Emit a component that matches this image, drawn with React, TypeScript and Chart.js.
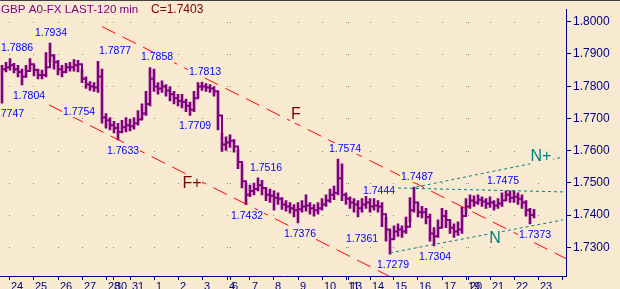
import React, { useEffect, useRef } from "react";
import { Chart, registerables } from "chart.js";
Chart.register(...registerables);

// ---- data ----
const dayLabels = ["24","25","26","27","28","30","31","1","2","3","4","6","7","8","9","10","11","13","14","15","16","17","19","20","21","22","23",""];
const dayStartBars = [4.5,16.5,29,41,53,56.5,65,77,89,101,113.5,115,125,136.5,149,161,173,174,185,196.5,208.5,221,233,234,245,257,269,281];

const highs = [
  1.7865,1.7874,1.7886,1.7871,1.7865,1.7853,1.7865,1.7886,1.7865,1.7853,
  1.7850,1.7904,1.7934,1.7898,1.7880,1.7865,1.7871,1.7874,1.7883,1.7880,
  1.7853,1.7829,1.7814,1.7811,1.7877,1.7853,1.7715,1.7703,1.7691,1.7685,
  1.7694,1.7703,1.7697,1.7703,1.7724,1.7745,1.7784,1.7858,1.7853,1.7811,
  1.7817,1.7805,1.7799,1.7784,1.7775,1.7775,1.7760,1.7751,1.7784,1.7811,
  1.7813,1.7808,1.7805,1.7799,1.7784,1.7655,1.7643,1.7649,1.7634,1.7604,
  1.7559,1.7499,1.7493,1.7499,1.7516,1.7508,1.7484,1.7481,1.7475,1.7469,
  1.7454,1.7445,1.7439,1.7433,1.7439,1.7445,1.7463,1.7439,1.7433,1.7439,
  1.7451,1.7463,1.7481,1.7490,1.7574,1.7559,1.7469,1.7457,1.7451,1.7445,
  1.7451,1.7460,1.7451,1.7451,1.7445,1.7439,1.7394,1.7355,1.7367,1.7373,
  1.7367,1.7394,1.7454,1.7487,1.7439,1.7427,1.7421,1.7403,1.7361,1.7385,
  1.7421,1.7415,1.7385,1.7373,1.7379,1.7424,1.7451,1.7463,1.7460,1.7463,
  1.7457,1.7451,1.7457,1.7445,1.7451,1.7469,1.7475,1.7475,1.7475,1.7469,
  1.7463,1.7445,1.7421,1.7418
];
const lows = [
  1.7747,1.7844,1.7850,1.7841,1.7829,1.7804,1.7829,1.7850,1.7832,1.7823,
  1.7823,1.7829,1.7874,1.7853,1.7835,1.7829,1.7841,1.7847,1.7847,1.7844,
  1.7811,1.7793,1.7787,1.7784,1.7781,1.7685,1.7670,1.7664,1.7655,1.7633,
  1.7655,1.7658,1.7661,1.7667,1.7679,1.7697,1.7709,1.7739,1.7784,1.7775,
  1.7781,1.7769,1.7754,1.7745,1.7739,1.7733,1.7721,1.7709,1.7721,1.7763,
  1.7787,1.7784,1.7781,1.7769,1.7664,1.7598,1.7601,1.7610,1.7595,1.7544,
  1.7484,1.7432,1.7457,1.7463,1.7475,1.7463,1.7445,1.7439,1.7415,1.7433,
  1.7418,1.7412,1.7406,1.7394,1.7376,1.7409,1.7412,1.7403,1.7397,1.7403,
  1.7415,1.7427,1.7439,1.7448,1.7463,1.7445,1.7433,1.7421,1.7409,1.7394,
  1.7409,1.7421,1.7409,1.7415,1.7409,1.7364,1.7319,1.7279,1.7325,1.7334,
  1.7331,1.7343,1.7379,1.7409,1.7394,1.7391,1.7373,1.7319,1.7304,1.7331,
  1.7361,1.7361,1.7343,1.7331,1.7337,1.7343,1.7403,1.7421,1.7427,1.7433,
  1.7427,1.7421,1.7424,1.7415,1.7421,1.7427,1.7445,1.7439,1.7439,1.7433,
  1.7421,1.7397,1.7373,1.7391
];
const closes = [
  1.7853,1.7859,1.7865,1.7853,1.7844,1.7829,1.7847,1.7868,1.7850,1.7835,
  1.7835,1.7859,1.7895,1.7874,1.7853,1.7844,1.7859,1.7859,1.7865,1.7868,
  1.7823,1.7805,1.7799,1.7796,1.7830,1.7703,1.7694,1.7679,1.7670,1.7658,
  1.7673,1.7679,1.7676,1.7685,1.7697,1.7715,1.7745,1.7823,1.7799,1.7793,
  1.7799,1.7787,1.7775,1.7763,1.7754,1.7751,1.7739,1.7727,1.7763,1.7799,
  1.7799,1.7796,1.7793,1.7784,1.7709,1.7619,1.7625,1.7631,1.7613,1.7565,
  1.7505,1.7463,1.7475,1.7481,1.7493,1.7484,1.7463,1.7460,1.7454,1.7451,
  1.7433,1.7427,1.7421,1.7415,1.7418,1.7427,1.7430,1.7421,1.7415,1.7421,
  1.7433,1.7445,1.7463,1.7469,1.7514,1.7463,1.7451,1.7439,1.7433,1.7421,
  1.7433,1.7439,1.7427,1.7430,1.7427,1.7403,1.7355,1.7325,1.7349,1.7355,
  1.7349,1.7364,1.7415,1.7439,1.7409,1.7409,1.7394,1.7343,1.7334,1.7361,
  1.7397,1.7385,1.7361,1.7349,1.7355,1.7397,1.7427,1.7445,1.7439,1.7448,
  1.7442,1.7436,1.7439,1.7430,1.7436,1.7445,1.7463,1.7454,1.7457,1.7451,
  1.7439,1.7415,1.7400,1.7403
];

// channel / trend lines: [bar, value] endpoints
const fLineBars = [51, 284];
const fLineValues = [1.7985, 1.7262];
const fPlusBars = [24.5, 196];
const fPlusValues = [1.7742, 1.7206];
const nPlusBars = [208, 281.5];
const nPlusValues = [1.7487, 1.7580];
const nMidBars = [199, 281.5];
const nMidValues = [1.7484, 1.7472];
const nBars = [195, 281.5];
const nValues = [1.7283, 1.7385];

// line names
const lineNames = ["F", "F+", "N+", "N"];
const lineNameBars = [148, 96, 270.5, 247.5];
const lineNameValues = [1.7712, 1.7500, 1.7582, 1.7328];

// pivot annotations
const pivotValues = [1.7747,1.7886,1.7804,1.7934,1.7754,1.7877,1.7633,1.7858,1.7709,1.7813,1.7432,1.7516,1.7376,1.7574,1.7361,1.7444,1.7279,1.7487,1.7304,1.7475,1.7373];
const pivotBars = [4,8.5,14.5,25.5,39.5,57.5,61.5,78.5,97.5,102.5,123.5,133,150,172.5,181,189.5,196.5,208.5,217.5,251.5,267.5];
const pivotSide = ["low","high","low","high","low","high","low","high","low","high","low","high","low","high","low","high","low","high","low","high","low"];

const titleText = "GBP A0-FX LAST-120 min";
const Y_MIN = 1.7211;
const Y_MAX = 1.8039;
const X_MAX = 283;

// ---- styles ----
const BG = "#F7EAD1";
const PURPLE = "#800080";
const NAVY = "#000080";
const RED = "#FF0000";
const DARKRED = "#800000";
const TEAL = "#008080";
const BLUE = "#0000FF";
const FONT = "'Liberation Sans', Arial, sans-serif";

function drawBoxedText(ctx: CanvasRenderingContext2D, text: string, cx: number, cy: number, color: string, size: number) {
  ctx.font = `${size}px ${FONT}`;
  const w = ctx.measureText(text).width;
  ctx.fillStyle = BG;
  ctx.fillRect(Math.round(cx - w / 2 - 1), Math.round(cy - size * 0.5), Math.round(w + 2), Math.round(size));
  ctx.fillStyle = color;
  ctx.textAlign = "center";
  ctx.textBaseline = "middle";
  ctx.fillText(text, cx, cy + 0.5);
}

const overlayPlugin = {
  id: "overlay",
  beforeDraw(chart: any) {
    const ctx = chart.ctx;
    ctx.save();
    ctx.fillStyle = BG;
    ctx.fillRect(0, 0, chart.width, chart.height);
    ctx.restore();
  },
  beforeDatasetsDraw(chart: any) {
    const { ctx, scales } = chart;
    const x = scales.x, y = scales.y;
    ctx.save();
    ctx.fillStyle = "#8A8A8A";
    for (const t of y.ticks) {
      const py = Math.round(y.getPixelForValue(t.value));
      dayStartBars.forEach((b, i) => {
        if (!dayLabels[i]) return;
        const px = Math.round(x.getPixelForValue(b));
        ctx.fillRect(px, py, 1, 1);
      });
    }
    ctx.restore();
  },
  afterDatasetsDraw(chart: any) {
    const { ctx, scales } = chart;
    const x = scales.x, y = scales.y;
    ctx.save();
    lineNames.forEach((n, i) => {
      const color = n.startsWith("F") ? DARKRED : TEAL;
      drawBoxedText(ctx, n, x.getPixelForValue(lineNameBars[i]), y.getPixelForValue(lineNameValues[i]), color, 16);
    });
    pivotValues.forEach((v, i) => {
      const py = y.getPixelForValue(v) + (pivotSide[i] === "high" ? -10.5 : 10.5);
      drawBoxedText(ctx, v.toFixed(4), x.getPixelForValue(pivotBars[i]), py, BLUE, 10.5);
    });
    ctx.textAlign = "left";
    ctx.textBaseline = "alphabetic";
    ctx.font = `11.6px ${FONT}`;
    ctx.fillStyle = PURPLE;
    ctx.fillText(titleText, 1, 12.5);
    ctx.font = `12px ${FONT}`;
    ctx.fillStyle = DARKRED;
    ctx.fillText("C=" + closes[closes.length - 1].toFixed(4), 151, 12.5);
    ctx.fillStyle = "#404040";
    ctx.fillRect(0, 0, chart.width, 1);
    ctx.restore();
  },
};

function segment(bars: number[], vals: number[], color: string, dash: number[]) {
  return {
    type: "line" as const,
    data: bars.map((b, i) => ({ x: b, y: vals[i] })),
    borderColor: color,
    borderWidth: 1,
    borderDash: dash,
    pointRadius: 0,
    order: 0,
  };
}

export default function App() {
  const ref = useRef<HTMLCanvasElement>(null);
  useEffect(() => {
    const canvas = ref.current!;
    const xs = closes.map((_, i) => 2 * i + 1);
    const chart = new Chart(canvas, {
      type: "bar",
      data: {
        datasets: [
          segment(fLineBars, fLineValues, RED, [15, 8]),
          segment(fPlusBars, fPlusValues, RED, [15, 8]),
          segment(nPlusBars, nPlusValues, TEAL, [3, 3]),
          segment(nMidBars, nMidValues, TEAL, [3, 3]),
          segment(nBars, nValues, TEAL, [3, 3]),
          {
            type: "line",
            data: xs.map((x, i) => ({ x, y: closes[i] })),
            borderColor: PURPLE,
            borderWidth: 2,
            pointRadius: 0,
            stepped: true,
            order: 1,
          } as any,
          {
            type: "bar",
            data: xs.map((x, i) => ({ x, y: [lows[i], highs[i]] })),
            backgroundColor: PURPLE,
            barThickness: 2,
            order: 2,
          } as any,
        ],
      },
      options: {
        responsive: false,
        animation: false,
        devicePixelRatio: 1,
        events: [],
        layout: { padding: 0 },
        plugins: { legend: { display: false }, tooltip: { enabled: false }, title: { display: false } },
        scales: {
          x: {
            type: "linear",
            min: 0,
            max: X_MAX,
            offset: false,
            afterFit: (s: any) => { s.height = 13; },
            afterBuildTicks: (s: any) => { s.ticks = dayStartBars.map((v) => ({ value: v })); },
            grid: { display: true, drawOnChartArea: false, drawTicks: true, tickLength: 4, color: NAVY, offset: false },
            border: { display: true, color: NAVY, width: 1 },
            ticks: {
              autoSkip: false, maxRotation: 0, minRotation: 0, align: "start", labelOffset: 2, padding: 0,
              color: NAVY, font: { family: FONT, size: 11 },
              callback: (_v: any, i: number) => dayLabels[i],
            },
          },
          y: {
            type: "linear",
            position: "right",
            min: Y_MIN,
            max: Y_MAX,
            afterFit: (s: any) => { s.width = 54; },
            grid: { display: true, drawOnChartArea: false, drawTicks: true, tickLength: 5, color: NAVY },
            border: { display: true, color: NAVY, width: 1 },
            ticks: {
              stepSize: 0.01, includeBounds: false, padding: 2,
              color: NAVY, font: { family: FONT, size: 12 },
              callback: (v: any) => Number(v).toFixed(4),
            },
          },
        },
      } as any,
      plugins: [overlayPlugin],
    });
    return () => chart.destroy();
  }, []);
  return (
    <canvas
      ref={ref}
      width={620}
      height={289}
      style={{ position: "fixed", left: 0, top: 0, width: 620, height: 289 }}
    />
  );
}
